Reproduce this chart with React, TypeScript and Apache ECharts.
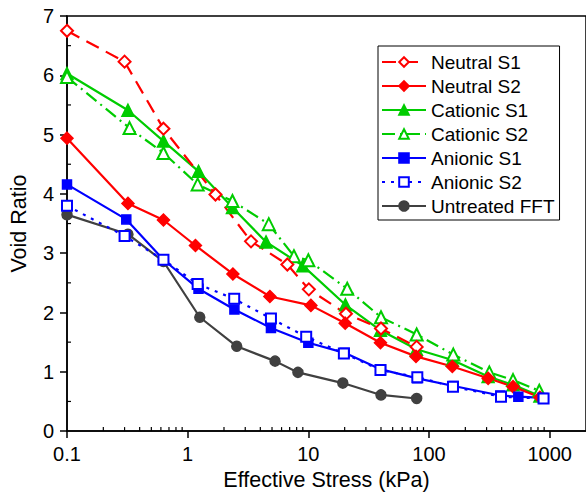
import React, { useEffect, useRef } from "react";
import * as echarts from "echarts";

// ---- data (stress in kPa, void ratio) ----
const neutralS1X = [0.1, 0.3, 0.63, 1.7, 3.35, 6.7, 10.1, 20.5, 40, 79];
const neutralS1Y = [6.75, 6.23, 5.1, 3.99, 3.2, 2.81, 2.39, 1.98, 1.73, 1.42];

const neutralS2X = [0.1, 0.32, 0.63, 1.16, 2.37, 4.8, 10.5, 20.2, 39.6, 78, 156, 309, 497, 830];
const neutralS2Y = [4.94, 3.84, 3.56, 3.13, 2.65, 2.27, 2.12, 1.82, 1.49, 1.26, 1.09, 0.89, 0.75, 0.57];

const cationicS1X = [0.1, 0.32, 0.63, 1.23, 2.35, 4.46, 9.0, 20.3, 39.6, 78.7, 156, 309, 497, 830];
const cationicS1Y = [6.03, 5.41, 4.89, 4.38, 3.77, 3.19, 2.79, 2.13, 1.7, 1.38, 1.2, 0.92, 0.78, 0.59];

const cationicS2X = [0.1, 0.33, 0.63, 1.21, 2.35, 4.7, 7.6, 10, 21, 40, 79, 159, 316, 497, 820];
const cationicS2Y = [5.97, 5.11, 4.69, 4.16, 3.88, 3.49, 2.95, 2.88, 2.4, 1.92, 1.63, 1.29, 0.99, 0.86, 0.68];

const anionicS1X = [0.1, 0.31, 0.63, 1.23, 2.44, 4.9, 10, 20, 40, 80, 160, 390, 550, 880];
const anionicS1Y = [4.16, 3.57, 2.89, 2.4, 2.05, 1.74, 1.49, 1.32, 1.04, 0.89, 0.76, 0.6, 0.58, 0.56];

const anionicS2X = [0.1, 0.3, 0.63, 1.21, 2.43, 4.9, 9.6, 19.7, 39.6, 80, 158, 395, 890];
const anionicS2Y = [3.8, 3.29, 2.89, 2.48, 2.23, 1.9, 1.59, 1.31, 1.03, 0.91, 0.75, 0.58, 0.55];

const untreatedX = [0.1, 0.32, 0.63, 1.26, 2.55, 5.3, 8.2, 19.3, 40, 79];
const untreatedY = [3.65, 3.32, 2.86, 1.92, 1.43, 1.18, 0.99, 0.81, 0.61, 0.55];

const legendNames = [
  "Neutral S1",
  "Neutral S2",
  "Cationic S1",
  "Cationic S2",
  "Anionic S1",
  "Anionic S2",
  "Untreated FFT",
];

const xTickValues = [0.1, 1, 10, 100, 1000];
const xTickLabels = ["0.1", "1", "10", "100", "1000"];
const xMin = 0.1;
const xMax = 2000;
const xMinorTicks = [
  0.2, 0.3, 0.4, 0.5, 0.6, 0.7, 0.8, 0.9,
  2, 3, 4, 5, 6, 7, 8, 9,
  20, 30, 40, 50, 60, 70, 80, 90,
  200, 300, 400, 500, 600, 700, 800, 900,
];
const yMinorTicks = [0.5, 1.5, 2.5, 3.5, 4.5, 5.5, 6.5];

const FONT = "'Liberation Sans', Arial, Helvetica, sans-serif";
const RED = "#ff0000";
const GREEN = "#00cc00";
const BLUE = "#0000ff";
const GRAY = "#404040";

const toPts = (xs: number[], ys: number[]) => xs.map((x, i) => [Math.log10(x), ys[i]]);

function lineSeries(
  name: string,
  xs: number[],
  ys: number[],
  color: string,
  symbol: string,
  symbolSize: number,
  dash: any
) {
  return {
    name,
    type: "line",
    data: toPts(xs, ys),
    symbol,
    symbolSize,
    showAllSymbol: true,
    lineStyle: { color, width: 2.2, type: dash },
    itemStyle: { color, borderColor: color, borderWidth: 1.5 },
    emphasis: { disabled: true },
  };
}

export default function App() {
  const ref = useRef<HTMLDivElement>(null);
  useEffect(() => {
    if (!ref.current) return;
    const chart = echarts.init(ref.current, undefined, { renderer: "svg" });
    const tickLabelMap: Record<string, string> = {};
    xTickValues.forEach((v, i) => {
      tickLabelMap[String(Math.round(Math.log10(v)))] = xTickLabels[i];
    });
    const option: any = {
      animation: false,
      backgroundColor: "#ffffff",
      textStyle: { fontFamily: FONT },
      grid: {
        left: 66,
        top: 16,
        width: 521,
        height: 417,
        show: true,
        borderColor: "#000",
        borderWidth: 1.5,
        backgroundColor: "transparent",
      },
      legend: {
        data: legendNames,
        orient: "vertical",
        left: 378,
        top: 46,
        padding: [6, 5, 4, 3],
        itemGap: 4,
        itemWidth: 44,
        itemHeight: 12,
        borderColor: "#000",
        borderWidth: 1,
        backgroundColor: "#fff",
        textStyle: { fontSize: 19, color: "#000", fontFamily: FONT, lineHeight: 20 },
        selectedMode: false,
      },
      xAxis: {
        type: "value",
        min: Math.log10(xMin),
        max: Math.log10(xMax),
        interval: 1,
        name: "Effective Stress (kPa)",
        nameLocation: "middle",
        nameGap: 29,
        nameTextStyle: { fontSize: 21.5, color: "#000", fontFamily: FONT },
        axisLine: { onZero: false, lineStyle: { color: "#000", width: 1.5 } },
        axisTick: { show: true, length: 7, lineStyle: { color: "#000", width: 1.5 } },
        splitLine: { show: false },
        axisLabel: {
          fontSize: 20,
          color: "#000",
          fontFamily: FONT,
          margin: 13,
          showMaxLabel: false,
          formatter: (v: number) => {
            const r = Math.round(v);
            if (Math.abs(v - r) > 1e-6) return "";
            return tickLabelMap[String(r)] ?? "";
          },
        },
      },
      yAxis: {
        type: "value",
        min: 0,
        max: 7,
        interval: 1,
        name: "Void Ratio",
        nameLocation: "middle",
        nameGap: 37,
        nameTextStyle: { fontSize: 21.5, color: "#000", fontFamily: FONT },
        axisLine: { onZero: false, lineStyle: { color: "#000", width: 1.5 } },
        axisTick: { show: true, length: 7, lineStyle: { color: "#000", width: 1.5 } },
        splitLine: { show: false },
        axisLabel: { fontSize: 20, color: "#000", fontFamily: FONT, margin: 13 },
      },
      series: [
        {
          type: "custom",
          silent: true,
          data: xMinorTicks.map((v) => [Math.log10(v), 0]),
          renderItem: (_p: any, api: any) => {
            const pt = api.coord([api.value(0), api.value(1)]);
            return {
              type: "line",
              shape: { x1: pt[0], y1: pt[1], x2: pt[0], y2: pt[1] - 4 },
              style: { stroke: "#000", lineWidth: 1.2 },
            };
          },
          z: 1,
        },
        {
          type: "custom",
          silent: true,
          data: yMinorTicks.map((v) => [Math.log10(xMin), v]),
          renderItem: (_p: any, api: any) => {
            const pt = api.coord([api.value(0), api.value(1)]);
            return {
              type: "line",
              shape: { x1: pt[0], y1: pt[1], x2: pt[0] + 4, y2: pt[1] },
              style: { stroke: "#000", lineWidth: 1.2 },
            };
          },
          z: 1,
        },
        lineSeries("Untreated FFT", untreatedX, untreatedY, GRAY, "circle", 10, "solid"),
        lineSeries("Cationic S1", cationicS1X, cationicS1Y, GREEN, "triangle", 12, "solid"),
        lineSeries("Cationic S2", cationicS2X, cationicS2Y, GREEN, "emptyTriangle", 12, [13, 5, 2, 5]),
        lineSeries("Neutral S1", neutralS1X, neutralS1Y, RED, "emptyDiamond", 12, [14, 8]),
        lineSeries("Neutral S2", neutralS2X, neutralS2Y, RED, "diamond", 12, "solid"),
        lineSeries("Anionic S1", anionicS1X, anionicS1Y, BLUE, "rect", 9, "solid"),
        lineSeries("Anionic S2", anionicS2X, anionicS2Y, BLUE, "emptyRect", 10, [3, 6]),
      ],
    };
    chart.setOption(option);
    return () => chart.dispose();
  }, []);
  return (
    <div
      ref={ref}
      style={{ position: "fixed", left: 0, top: 0, width: 586, height: 496, background: "#fff" }}
    />
  );
}
